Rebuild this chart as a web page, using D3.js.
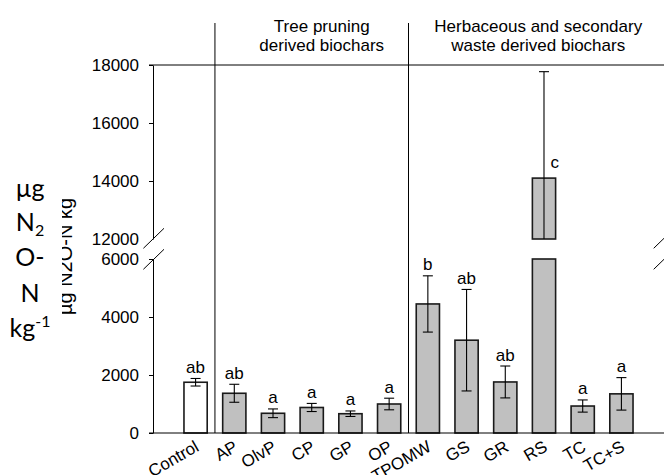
<!DOCTYPE html>
<html><head><meta charset="utf-8">
<script src="https://cdn.jsdelivr.net/npm/d3@7"></script>
<style>body{margin:0;background:#fff} svg{display:block}</style>
</head><body><svg id="c" width="664" height="475"></svg>
<script>
const categories = ["Control","AP","OlvP","CP","GP","OP","TPOMW","GS","GR","RS","TC","TC+S"];
const means  = [1750, 1370, 680, 880, 665, 1000, 4450, 3200, 1760, 14100, 930, 1350];
const errors = [130, 310, 150, 140, 95, 200, 970, 1750, 550, 3670, 210, 560];
const letters = ["ab","ab","a","a","a","a","b","ab","ab","c","a","a"];
const controlCats = ["Control"];
const groupLabels = [["Tree pruning","derived biochars"],["Herbaceous and secondary","waste derived biochars"]];
const groupBounds = [["AP","OP"],["TPOMW","TC+S"]];
const lowerTicks = [0, 2000, 4000, 6000];
const upperTicks = [12000, 14000, 16000, 18000];
const lowerDomain = [0, 6000];
const upperDomain = [12000, 18000];

const svg = d3.select("#c");
const FONT = "'Liberation Sans', Arial, sans-serif";

const x = d3.scalePoint().domain(categories).range([153, 664]).padding(1.1);
const yLo = d3.scaleLinear().domain(lowerDomain).range([433, 259]);
const yHi = d3.scaleLinear().domain(upperDomain).range([239, 65]);
const bw = x.step() * 0.6;
const step = x.step();

// group separators
const sepX = [ (x("Control")+x("AP"))/2, (x("OP")+x("TPOMW"))/2 ];
svg.selectAll("line.sep").data(sepX).join("line")
  .attr("x1", d=>d).attr("x2", d=>d).attr("y1", 23).attr("y2", yLo(0))
  .attr("stroke", "#000").attr("stroke-width", 1);

// header labels
const hdrCenters = [ (sepX[0]+sepX[1])/2 + 10, (sepX[1]+664)/2 + 2 ];
groupLabels.forEach((lines, i) => {
  const t = svg.append("text").attr("text-anchor","middle")
    .attr("font-family", FONT).attr("font-size", 17).attr("fill","#000");
  lines.forEach((ln, j) => t.append("tspan").attr("x", hdrCenters[i]).attr("y", 32 + j*18.5).text(ln));
});

// top line at 18000
svg.append("line").attr("x1", 149).attr("x2", 664)
  .attr("y1", yHi(18000)).attr("y2", yHi(18000)).attr("stroke","#000");

// bars
const data = categories.map((c,i)=>({c, m:means[i], e:errors[i], l:letters[i]}));
const barG = svg.append("g");
data.forEach(d => {
  const fill = controlCats.includes(d.c) ? "#fff" : "#c0c0c0";
  const x0 = x(d.c) - bw/2;
  const lowTop = Math.min(d.m, lowerDomain[1]);
  barG.append("rect").attr("x", x0).attr("width", bw)
    .attr("y", yLo(lowTop)).attr("height", yLo(0) - yLo(lowTop))
    .attr("fill", fill).attr("stroke", "#1a1a1a").attr("stroke-width", 1.6);
  if (d.m > upperDomain[0]) {
    barG.append("rect").attr("x", x0).attr("width", bw)
      .attr("y", yHi(d.m)).attr("height", yHi(upperDomain[0]) - yHi(d.m))
      .attr("fill", fill).attr("stroke", "#1a1a1a").attr("stroke-width", 1.6);
  }
});

// error bars
const errG = svg.append("g").attr("stroke","#000").attr("stroke-width",1.1);
const cap = 5;
data.forEach(d => {
  const cx = x(d.c);
  const hi = d.m + d.e, lo = d.m - d.e;
  if (d.m > upperDomain[0]) {
    const yTop = yHi(hi), yBot = yHi(Math.max(lo, upperDomain[0]));
    errG.append("line").attr("x1",cx).attr("x2",cx).attr("y1",yTop).attr("y2",yBot);
    errG.append("line").attr("x1",cx-cap).attr("x2",cx+cap).attr("y1",yTop).attr("y2",yTop);
    if (lo >= upperDomain[0]) errG.append("line").attr("x1",cx-cap).attr("x2",cx+cap).attr("y1",yBot).attr("y2",yBot);
    svg.append("text").attr("x", cx + 6.5).attr("y", yHi(d.m) - 10)
      .attr("font-family", FONT).attr("font-size", 17).text(d.l);
  } else {
    const yTop = yLo(hi), yBot = yLo(lo);
    errG.append("line").attr("x1",cx).attr("x2",cx).attr("y1",yTop).attr("y2",yBot);
    errG.append("line").attr("x1",cx-cap).attr("x2",cx+cap).attr("y1",yTop).attr("y2",yTop);
    errG.append("line").attr("x1",cx-cap).attr("x2",cx+cap).attr("y1",yBot).attr("y2",yBot);
    svg.append("text").attr("x", cx).attr("y", yTop - 5.5).attr("text-anchor","middle")
      .attr("font-family", FONT).attr("font-size", 17).text(d.l);
  }
});

// left axes
function styleAxis(g){
  g.selectAll("path.domain").attr("stroke","#000");
  g.selectAll(".tick line").attr("stroke","#000");
  g.selectAll(".tick text").attr("font-family", FONT).attr("font-size", 17).attr("fill","#000");
}
svg.append("g").attr("transform","translate(153,0)")
  .call(d3.axisLeft(yLo).tickValues(lowerTicks).tickSize(4).tickSizeOuter(0).tickPadding(10).tickFormat(d3.format("d")))
  .call(styleAxis);
svg.append("g").attr("transform","translate(153,0)")
  .call(d3.axisLeft(yHi).tickValues(upperTicks).tickSize(4).tickSizeOuter(0).tickPadding(10).tickFormat(d3.format("d")))
  .call(styleAxis)
  .call(g => g.selectAll(".tick").filter(d => d === 12000).select("line").remove());
svg.select("g").selectAll(".tick").filter(d => d === 6000).select("line").remove();

// bottom axis
svg.append("g").attr("transform", `translate(0,${yLo(0)})`)
  .call(d3.axisBottom(x).tickSize(0).tickSizeOuter(0))
  .call(g => g.select("path.domain").attr("d", `M149,0H664`).attr("stroke","#000"))
  .call(g => g.selectAll(".tick text")
    .attr("font-family", FONT).attr("font-size", 17).attr("fill","#000")
    .attr("text-anchor","end").attr("y",0).attr("dy",0)
    .attr("transform","translate(4,17) rotate(-30)"));

// break marks
const brk = svg.append("g").attr("stroke","#000").attr("stroke-width",1);
[153.7, 664].forEach(bx => {
  [238.3, 259.3].forEach(by => {
    brk.append("line").attr("x1", bx-10.3).attr("y1", by+10).attr("x2", bx+10.3).attr("y2", by-10);
  });
});

// partially hidden rotated label
svg.append("clipPath").attr("id","clipY").append("rect")
  .attr("x", 62).attr("y", 150).attr("width", 30).attr("height", 220);
svg.append("g").attr("clip-path","url(#clipY)")
  .append("text").attr("transform","translate(72,256.5) rotate(-90)")
  .attr("text-anchor","middle").attr("font-family", FONT).attr("font-size", 20)
  .text("µg N2O-N kg");

// big left label
const lbl = svg.append("text").attr("font-family","Lato, 'Open Sans', sans-serif")
  .attr("font-size", 25).attr("text-anchor","middle").attr("fill","#000");
lbl.append("tspan").attr("x",30).attr("y",197).text("µg");
const l2 = lbl.append("tspan").attr("x",30).attr("y",231);
l2.append("tspan").text("N");
l2.append("tspan").attr("font-size",16).attr("dy",5).text("2");
lbl.append("tspan").attr("x",30).attr("y",266).text("O-");
lbl.append("tspan").attr("x",30).attr("y",302).text("N");
const l5 = lbl.append("tspan").attr("x",30).attr("y",337);
l5.append("tspan").text("kg");
l5.append("tspan").attr("font-size",16).attr("dy",-10).text("-1");
</script></body></html>
